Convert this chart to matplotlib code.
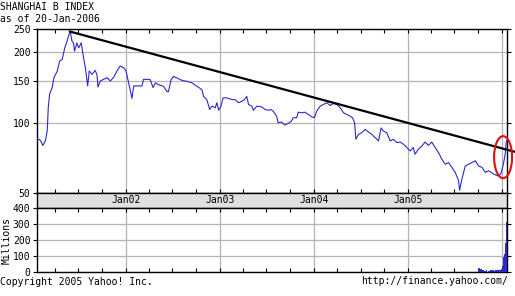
import matplotlib
matplotlib.use("Agg")
import matplotlib.pyplot as plt
import matplotlib.dates as mdates
import matplotlib.transforms as mtransforms
from matplotlib.patches import Ellipse
from matplotlib.ticker import NullLocator
import pandas as pd

plt.rcParams['font.family'] = ['DejaVu Sans Mono']

# ---------------- data ----------------
price_dates = [
    "2001-01-22", "2001-02-04", "2001-02-13", "2001-02-23", "2001-03-02", "2001-03-06", "2001-03-11", "2001-03-21", "2001-03-28", "2001-04-10",
    "2001-04-19", "2001-04-29", "2001-05-09", "2001-05-18", "2001-05-25", "2001-05-31", "2001-06-06", "2001-06-12", "2001-06-16", "2001-06-25",
    "2001-07-02", "2001-07-12", "2001-07-21", "2001-07-28", "2001-08-06", "2001-08-12", "2001-08-23", "2001-09-04", "2001-09-11", "2001-09-15",
    "2001-09-24", "2001-10-07", "2001-10-20", "2001-11-02", "2001-11-14", "2001-11-28", "2001-12-10", "2001-12-24", "2002-01-02", "2002-01-12",
    "2002-01-25", "2002-02-01", "2002-02-14", "2002-03-05", "2002-03-11", "2002-03-31", "2002-04-06", "2002-04-17", "2002-04-26", "2002-05-09",
    "2002-05-28", "2002-06-10", "2002-06-16", "2002-06-26", "2002-07-06", "2002-07-19", "2002-08-07", "2002-08-27", "2002-09-15", "2002-10-05",
    "2002-10-24", "2002-10-30", "2002-11-12", "2002-11-23", "2002-12-02", "2002-12-15", "2002-12-21", "2002-12-28", "2003-01-06", "2003-01-14",
    "2003-01-29", "2003-02-18", "2003-03-02", "2003-03-15", "2003-03-28", "2003-04-07", "2003-04-16", "2003-04-23", "2003-05-06", "2003-05-12",
    "2003-05-25", "2003-06-13", "2003-06-26", "2003-07-09", "2003-07-19", "2003-07-28", "2003-08-10", "2003-08-16", "2003-08-29", "2003-09-11",
    "2003-09-24", "2003-10-07", "2003-10-13", "2003-10-27", "2003-11-02", "2003-11-15", "2003-11-28", "2003-12-11", "2003-12-24", "2004-01-04",
    "2004-01-13", "2004-01-26", "2004-02-08", "2004-02-21", "2004-03-05", "2004-03-18", "2004-03-31", "2004-04-13", "2004-04-26", "2004-05-09",
    "2004-05-22", "2004-05-31", "2004-06-08", "2004-06-13", "2004-06-23", "2004-07-06", "2004-07-19", "2004-08-01", "2004-08-14", "2004-08-27",
    "2004-09-09", "2004-09-19", "2004-09-28", "2004-10-11", "2004-10-24", "2004-11-06", "2004-11-19", "2004-12-02", "2004-12-15", "2004-12-28",
    "2005-01-10", "2005-01-22", "2005-01-29", "2005-02-11", "2005-02-24", "2005-03-09", "2005-03-22", "2005-04-04", "2005-04-17", "2005-04-30",
    "2005-05-13", "2005-05-26", "2005-06-08", "2005-06-21", "2005-07-04", "2005-07-17", "2005-07-21", "2005-07-30", "2005-08-12", "2005-08-25",
    "2005-09-07", "2005-09-20", "2005-10-03", "2005-10-16", "2005-10-29", "2005-11-11", "2005-11-30", "2005-12-15", "2005-12-28", "2006-01-07",
    "2006-01-14", "2006-01-18", "2006-01-20",
]
price_values = [
    85.8, 83.9, 79.9, 83.9, 92.5, 116.2, 132.2, 141.1, 155.6, 166.2,
    183.2, 186.1, 208.5, 222.6, 237.5, 243.8, 222.6, 219.0, 201.9, 219.0,
    208.5, 219.0, 189.2, 171.6, 143.5, 166.2, 160.7, 167.2, 160.7, 142.0,
    150.7, 153.1, 155.6, 150.7, 155.6, 166.2, 174.5, 171.6, 166.2, 148.2,
    127.0, 143.5, 143.5, 143.5, 153.1, 153.1, 152.6, 141.1, 147.9, 145.3,
    142.9, 135.8, 135.8, 152.6, 157.6, 155.2, 151.6, 150.1, 147.9, 142.9,
    138.4, 129.6, 125.5, 113.9, 117.6, 115.9, 121.7, 113.0, 117.6, 127.6,
    127.6, 125.5, 125.5, 121.7, 123.4, 125.5, 129.6, 119.6, 117.6, 113.0,
    117.6, 116.9, 113.9, 113.0, 113.9, 112.0, 106.6, 100.0, 100.6, 97.7,
    99.3, 101.6, 105.0, 105.0, 110.9, 110.2, 110.9, 108.4, 106.0, 105.0,
    112.0, 117.6, 119.6, 121.7, 118.4, 120.8, 119.6, 115.9, 110.2, 108.4,
    106.6, 105.0, 100.0, 85.0, 89.2, 90.7, 93.7, 91.2, 89.2, 86.4,
    83.6, 95.0, 92.1, 90.7, 83.6, 85.0, 82.3, 82.7, 80.9, 78.4,
    75.8, 78.4, 73.4, 77.1, 79.5, 82.7, 80.1, 82.7, 78.4, 74.6,
    69.9, 66.5, 67.6, 64.5, 61.4, 56.6, 51.5, 57.5, 65.4, 66.5,
    67.6, 68.8, 65.4, 64.5, 61.4, 62.4, 60.4, 59.4, 60.4, 66.5,
    73.4, 82.3, 84.0,
]

volume_dates = [
    "2005-10-03", "2005-10-07", "2005-10-12", "2005-10-17", "2005-10-21", "2005-10-26",
    "2005-10-31", "2005-11-04", "2005-11-09", "2005-11-14", "2005-11-18", "2005-11-23",
    "2005-11-28", "2005-12-02", "2005-12-07", "2005-12-12", "2005-12-16", "2005-12-21",
    "2005-12-26", "2005-12-30", "2006-01-04", "2006-01-06", "2006-01-09", "2006-01-11",
    "2006-01-13", "2006-01-16", "2006-01-18", "2006-01-19",
]
volume_values = [
    18, 22, 16, 12, 10, 9,
    8, 10, 9, 8, 10, 12,
    10, 9, 11, 12, 14, 12,
    15, 20, 40, 90, 55, 70,
    110, 180, 310, 220,
]

trend_dates = ["2001-05-25", "2006-02-21"]
trend_values = [245.5, 75.1]

circle_date = "2006-01-06"
circle_value = 71.3

price_ticks = [50, 100, 150, 200, 250]
volume_ticks = [0, 100, 200, 300, 400]
year_label_dates = ["2002-01-01", "2003-01-01", "2004-01-01", "2005-01-01"]
year_labels = ["Jan02", "Jan03", "Jan04", "Jan05"]

title = "SHANGHAI B INDEX"
subtitle = "as of 20-Jan-2006"
x_start, x_end = "2001-01-20", "2006-01-20"

# ---------------- figure ----------------
W, H = 515, 296
fig = plt.figure(figsize=(W / 100, H / 100), dpi=100)


def box(l, t, r, b):
    return [l / W, 1 - b / H, (r - l) / W, (b - t) / H]


ax = fig.add_axes(box(36.7, 29, 506.7, 193.3))
axb = fig.add_axes(box(36.7, 193.3, 506.7, 207.5))
axv = fig.add_axes(box(36.7, 207.5, 506.7, 272))

pd_dates = pd.to_datetime(price_dates)
xs, xe = pd.to_datetime(x_start), pd.to_datetime(x_end)

blue = '#2a2acc'
grid_c = '#b4b4b4'
fs = 7

# main price panel
ax.plot(pd_dates, price_values, color=blue, lw=0.8, zorder=3)
ax.set_yscale('log')
ax.set_ylim(50.3, 251)
ax.set_yticks(price_ticks)
ax.set_yticklabels([str(v) for v in price_ticks])
ax.yaxis.set_minor_locator(NullLocator())
ax.set_xlim(xs, xe)
ax.xaxis.set_major_locator(mdates.YearLocator())
ax.xaxis.set_minor_locator(mdates.MonthLocator(bymonth=[4, 7, 10]))
ax.tick_params(axis='x', which='both', direction='in', top=True, bottom=True,
               length=3, width=0.8, labelbottom=False)
ax.tick_params(axis='y', which='major', direction='out', left=True, right=True,
               length=3, width=0.8, labelsize=fs, pad=1.5)
ax.grid(True, which='major', color=grid_c, lw=0.9)
for s in ax.spines.values():
    s.set_linewidth(1.0)

ax.plot(pd.to_datetime(trend_dates), trend_values, color='black', lw=1.6,
        clip_on=False, zorder=4, solid_capstyle='butt')

cx = mdates.date2num(pd.to_datetime(circle_date))
ell_tr = fig.dpi_scale_trans + mtransforms.ScaledTranslation(cx, circle_value, ax.transData)
ax.add_patch(Ellipse((0, 0), 0.18, 0.42, transform=ell_tr, fill=False,
                     edgecolor='#dd1111', lw=1.5, clip_on=False, zorder=5))

# date band
axb.set_facecolor('#e0e0e0')
axb.set_xlim(xs, xe)
axb.set_ylim(0, 1)
axb.set_xticks([])
axb.set_yticks([])
for d, lab in zip(year_label_dates, year_labels):
    axb.text(pd.to_datetime(d), 0.5, lab, ha='center', va='center', fontsize=fs)
for s in axb.spines.values():
    s.set_linewidth(1.0)

# volume panel
axv.bar(pd.to_datetime(volume_dates), volume_values, width=4.5, color=blue,
        align='center', zorder=3)
axv.set_xlim(xs, xe)
axv.set_ylim(0, 400)
axv.set_yticks(volume_ticks)
axv.set_yticklabels([str(v) for v in volume_ticks])
axv.xaxis.set_major_locator(mdates.YearLocator())
axv.xaxis.set_minor_locator(mdates.MonthLocator(bymonth=[4, 7, 10]))
axv.tick_params(axis='x', which='both', direction='in', top=True, bottom=True,
                length=3, width=0.8, labelbottom=False)
axv.tick_params(axis='y', direction='out', left=True, right=True,
                length=3, width=0.8, labelsize=fs, pad=1.5)
axv.grid(True, which='major', color=grid_c, lw=0.9)
for s in axv.spines.values():
    s.set_linewidth(1.0)

fig.text(6.7 / W, 1 - 240 / H, 'Millions', rotation=90, ha='center', va='center', fontsize=fs)

# header / footer
fig.text(0, 1 - 6.7 / H, title, ha='left', va='center', fontsize=fs)
fig.text(0, 1 - 19.5 / H, subtitle, ha='left', va='center', fontsize=fs)
fig.text(0, 1 - 282 / H, 'Copyright 2005 Yahoo! Inc.', ha='left', va='center', fontsize=fs)
fig.text(508.5 / W, 1 - 281 / H, 'http://finance.yahoo.com/', ha='right', va='center', fontsize=fs)

fig.savefig('out.png', dpi=100)
